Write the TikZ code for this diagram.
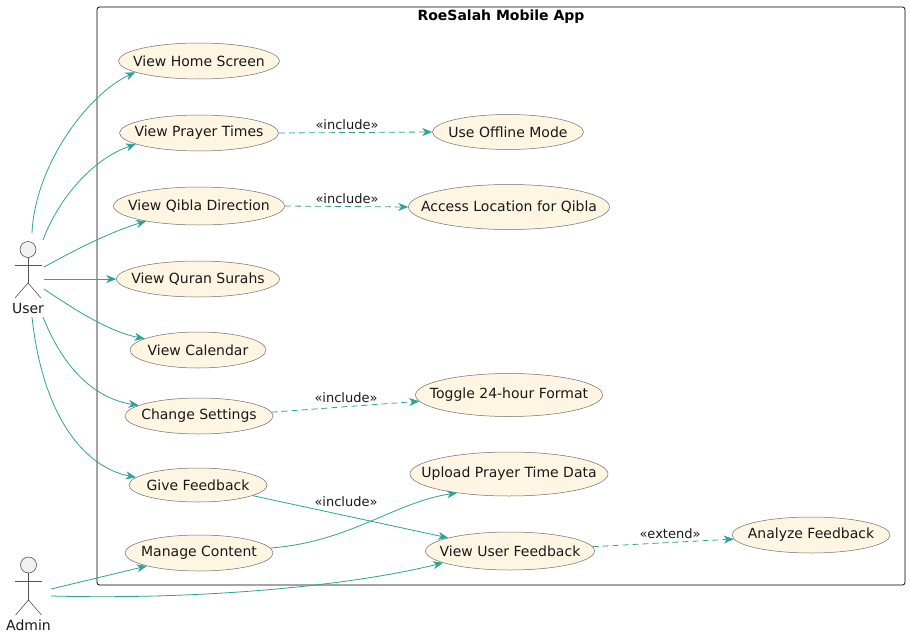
\documentclass[tikz,border=0pt]{standalone}
\usepackage{fontspec}
\setmainfont{DejaVu Sans}
\usetikzlibrary{shapes.geometric,arrows.meta}
\definecolor{tealc}{HTML}{2EA39A}
\definecolor{ucfill}{HTML}{FEF6E2}
\definecolor{ucline}{HTML}{6E6E6E}
\definecolor{actfill}{HTML}{F1F1F1}
\definecolor{actline}{HTML}{555555}
\begin{document}
\begin{tikzpicture}[x=1pt,y=-1pt,
  uc/.style args={#1/#2}{ellipse, draw=ucline, line width=0.5pt, fill=ucfill,
    minimum width=#1pt, minimum height=#2pt, inner sep=0pt},
  every label/.append style={font=\fontsize{14}{16}\selectfont, inner sep=0pt, text=black!90},
  conn/.style={draw=tealc, line width=0.8pt, -{Stealth[length=10pt,width=8pt,inset=3pt]}},
  dconn/.style={conn, dash pattern=on 6pt off 4pt},
  elbl/.style={font=\fontsize{13}{15}\selectfont, inner sep=0pt, text=black!90},
  act/.style={draw=actline, line width=0.6pt},
  acthead/.style={circle, act, fill=actfill, minimum size=16pt, inner sep=0pt},
  actlbl/.style={font=\fontsize{14}{16}\selectfont, inner sep=0pt, text=black!90}
]
\useasboundingbox (0,0) rectangle (910,637);
\fill[white] (0,0) rectangle (910,637);

% system boundary
\node[draw=black, line width=0.8pt, rounded corners=2.5pt, minimum width=808pt,
      minimum height=578pt, inner sep=0pt] (sys) at (501,296) {};
\node[font=\bfseries\fontsize{14}{16}\selectfont, inner sep=0pt] (title) at (501,17) {RoeSalah Mobile App};

% use cases (left column)
\node[uc=161/36, label={center:View Home Screen}] (home) at (199,61) {};
\node[uc=159/36, label={center:View Prayer Times}] (pray) at (199,133) {};
\node[uc=171/38, label={center:View Qibla Direction}] (qib) at (199,206) {};
\node[uc=163/36, label={center:View Quran Surahs}] (qur) at (198,279) {};
\node[uc=136/36, label={center:View Calendar}] (cal) at (198,350) {};
\node[uc=148/36, label={center:Change Settings}] (set) at (199,416) {};
\node[uc=138/34, label={center:Give Feedback}] (fb) at (198,485) {};
\node[uc=148/36, label={center:Manage Content}] (man) at (199,553) {};

% use cases (right)
\node[uc=151/35, label={center:Use Offline Mode}] (off) at (508,132) {};
\node[uc=201/45, label={center:Access Location for Qibla}] (acc) at (509,207) {};
\node[uc=187/43, label={center:Toggle 24-hour Format}] (tog) at (509,395) {};
\node[uc=198/44, label={center:Upload Prayer Time Data}] (up) at (509,474) {};
\node[uc=169/38, label={center:View User Feedback}] (vuf) at (510,551) {};
\node[uc=158/36, label={center:Analyze Feedback}] (ana) at (811,535) {};

% actor User
\node[acthead] (userhead) at (28,249.5) {};
\coordinate (userhip) at (28,283);
\draw[act] (userhead.south) -- (userhip);
\draw[act] (15,265) -- (42,265);
\draw[act] (15,298) -- (userhip) -- (41,298);
\node[actlbl] (user) at (28,308) {User};

% actor Admin
\node[acthead] (adminhead) at (28.5,565) {};
\coordinate (adminhip) at (28.5,600);
\draw[act] (adminhead.south) -- (adminhip);
\draw[act] (15,581) -- (42,581);
\draw[act] (15.5,615) -- (adminhip) -- (41.5,615);
\node[actlbl] (admin) at (28.5,625) {Admin};

% connector start points
\coordinate (uHome) at (32,233);
\coordinate (uPray) at (43,240);
\coordinate (uQib) at (44,267);
\coordinate (uQur) at (44,279);
\coordinate (uCal) at (44,289);
\coordinate (uSet) at (43,317);
\coordinate (uFb) at (32,317);
\coordinate (aMan) at (51,589);
\coordinate (aVuf) at (51,596);

% User associations
\draw[conn] (uHome) .. controls (35,165) and (88,94) .. (home.190);
\draw[conn] (uPray) .. controls (60,195) and (95,158) .. (pray.190);
\draw[conn] (uQib) .. controls (75,250) and (110,232) .. (qib.196);
\draw[conn] (uQur) -- (qur.west);
\draw[conn] (uCal) .. controls (75,310) and (110,332) .. (cal.168);
\draw[conn] (uSet) .. controls (62,365) and (92,398) .. (set.170);
\draw[conn] (uFb) .. controls (42,410) and (80,466) .. (fb.173);

% Admin associations
\draw[conn] (aMan) -- (man.194);
\draw[conn] (aVuf) .. controls (200,600) and (350,586) .. (vuf.190);
\draw[conn] (man.4) .. controls (350,542) and (395,502) .. (up.200);

% include / extend
\draw[dconn] (pray.east) -- (off.west);
\node[elbl] (l1) at (347,125) {«include»};
\draw[dconn] (qib.east) -- (acc.west);
\node[elbl] (l2) at (347,199) {«include»};
\draw[dconn] (set.3) -- (tog.184);
\node[elbl] (l3) at (346,398) {«include»};
\draw[conn] (fb.349) -- (vuf.168);
\node[elbl] (l4) at (346,502) {«include»};
\draw[dconn] (vuf.3) -- (ana.183);
\node[elbl] (l5) at (670,534) {«extend»};
\end{tikzpicture}
\end{document}
